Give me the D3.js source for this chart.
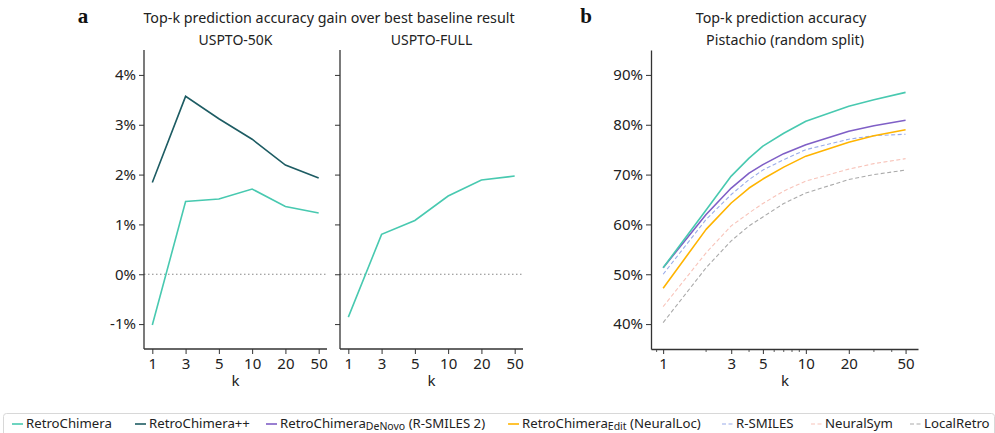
<!DOCTYPE html>
<html>
<head>
<meta charset="utf-8">
<script src="https://cdn.jsdelivr.net/npm/d3@7"></script>
<style>
  body { margin: 0; background: #fff; }
  svg { display: block; font-family: "Noto Sans", "Open Sans", sans-serif; }
</style>
</head>
<body>
<svg width="995" height="433"></svg>
<script>
// panel a: gain over best baseline (%)
const kLabels = ['1', '3', '5', '10', '20', '50'];
const gain50kChimera = [-1.02, 1.46, 1.51, 1.71, 1.36, 1.23];
const gain50kChimeraPP = [1.84, 3.57, 3.12, 2.71, 2.19, 1.93];
const gainFullChimera = [-0.86, 0.80, 1.08, 1.57, 1.89, 1.97];
const gainTicks = [-1, 0, 1, 2, 3, 4];

// panel b: top-k accuracy on Pistachio (%)
const kValues = [1, 2, 3, 4, 5, 7, 10, 20, 30, 50];
const accChimera = [51.3, 62.9, 69.7, 73.3, 75.7, 78.3, 80.7, 83.7, 85.0, 86.5];
const accDeNovo = [51.3, 62.0, 67.3, 70.3, 72.0, 74.2, 76.0, 78.7, 79.8, 80.9];
const accEdit = [47.2, 59.0, 64.3, 67.3, 69.1, 71.5, 73.7, 76.5, 77.8, 79.0];
const accRSmiles = [50.0, 61.0, 66.0, 69.0, 70.9, 73.0, 75.0, 77.1, 77.8, 78.1];
const accNeuralSym = [43.5, 54.3, 59.7, 62.3, 64.2, 66.7, 68.7, 71.1, 72.2, 73.2];
const accLocalRetro = [40.3, 51.3, 56.7, 59.7, 61.5, 64.2, 66.3, 69.0, 70.0, 70.9];
const accTicks = [40, 50, 60, 70, 80, 90];
const kTickValues = [1, 3, 5, 10, 20, 50];
const kMinorTicks = [0.9, 2, 4, 6, 7, 8, 9, 30, 40];

const colors = {
  chimera: '#48c9b0',
  chimeraPP: '#1d5c63',
  deNovo: '#7f5fc6',
  edit: '#ffb400',
  rsmiles: '#9aacea',
  neuralsym: '#f8c4ba',
  localretro: '#aaaaaa',
};

const svg = d3.select('svg');
const axisColor = '#333';
const yTop = 50, yBottom = 349;

function styleAxis(g) {
  g.select('.domain').attr('stroke', axisColor).attr('stroke-width', 1.3);
  g.selectAll('.tick line').attr('stroke', axisColor).attr('stroke-width', 1);
  g.selectAll('.tick text').attr('fill', '#222').style('font-size', '15px')
    .style('font-family', '"Noto Sans", sans-serif');
}

// ---- panel a ----
const yGain = d3.scaleLinear().domain([-1.5, 4.5]).range([yBottom, yTop]);

function gainPanel(x0, x1, title, series, showLabels) {
  const x = d3.scalePoint().domain(kLabels).range([x0, x1]).padding(0.25);
  const g = svg.append('g');

  // zero reference
  g.append('line')
    .attr('x1', x0).attr('x2', x1)
    .attr('y1', yGain(0)).attr('y2', yGain(0))
    .attr('stroke', '#888').attr('stroke-width', 1.2)
    .attr('stroke-dasharray', '1.5,2.5');

  series.forEach((s) => {
    const line = d3.line().x((d, i) => x(kLabels[i])).y(d => yGain(d));
    g.append('path').datum(s.values)
      .attr('d', line).attr('fill', 'none')
      .attr('stroke', s.color).attr('stroke-width', 1.6);
  });

  const ax = g.append('g').attr('transform', `translate(0,${yBottom})`)
    .call(d3.axisBottom(x).tickSize(5).tickPadding(4).tickSizeOuter(0));
  ax.select('.domain').attr('d', `M${x0},0H${x1}`);
  styleAxis(ax);

  const ay = g.append('g').attr('transform', `translate(${x0},0)`)
    .call(d3.axisLeft(yGain).tickValues(gainTicks).tickSize(5).tickPadding(3).tickSizeOuter(0)
      .tickFormat(d => showLabels ? `${d}%` : ''));
  ay.select('.domain').attr('d', `M0,${yTop}V${yBottom}`);
  styleAxis(ay);

  g.append('text').attr('x', (x0 + x1) / 2).attr('y', 386)
    .attr('text-anchor', 'middle').style('font-size', '15px').attr('fill', '#222').text('k');
  g.append('text').attr('x', (x0 + x1) / 2).attr('y', 45)
    .attr('text-anchor', 'middle').style('font-size', '14px').attr('fill', '#222').text(title);
}

gainPanel(144, 327, 'USPTO-50K', [
  { values: gain50kChimeraPP, color: colors.chimeraPP },
  { values: gain50kChimera, color: colors.chimera },
], true);
gainPanel(340, 523, 'USPTO-FULL', [
  { values: gainFullChimera, color: colors.chimera },
], false);

svg.append('text').attr('x', 329).attr('y', 23).attr('text-anchor', 'middle')
  .style('font-size', '14.3px').attr('fill', '#222')
  .text('Top-k prediction accuracy gain over best baseline result');

// ---- panel b ----
const bx0 = 651, bx1 = 918;
const xK = d3.scaleLog().domain([0.822, 61.1]).range([bx0, bx1]);
const yAcc = d3.scaleLinear().domain([35, 95]).range([yBottom, yTop]);
const gb = svg.append('g');

const accSeries = [
  { values: accLocalRetro, color: colors.localretro, dash: '4,2.5', w: 1.1 },
  { values: accNeuralSym, color: colors.neuralsym, dash: '4,2.5', w: 1.1 },
  { values: accRSmiles, color: colors.rsmiles, dash: '4,2.5', w: 1.1 },
  { values: accEdit, color: colors.edit, dash: null, w: 1.6 },
  { values: accDeNovo, color: colors.deNovo, dash: null, w: 1.6 },
  { values: accChimera, color: colors.chimera, dash: null, w: 1.6 },
];
accSeries.forEach((s) => {
  const line = d3.line().x((d, i) => xK(kValues[i])).y(d => yAcc(d));
  gb.append('path').datum(s.values)
    .attr('d', line).attr('fill', 'none')
    .attr('stroke', s.color).attr('stroke-width', s.w)
    .attr('stroke-linejoin', 'round')
    .attr('stroke-dasharray', s.dash);
});

const bax = gb.append('g').attr('transform', `translate(0,${yBottom})`)
  .call(d3.axisBottom(xK).tickValues(kTickValues).tickFormat(d3.format('d'))
    .tickSize(5).tickPadding(4).tickSizeOuter(0));
styleAxis(bax);
gb.append('g').attr('transform', `translate(0,${yBottom})`)
  .selectAll('line').data(kMinorTicks).join('line')
  .attr('x1', d => xK(d)).attr('x2', d => xK(d))
  .attr('y1', 0).attr('y2', 3)
  .attr('stroke', axisColor).attr('stroke-width', 0.8);

const bay = gb.append('g').attr('transform', `translate(${bx0},0)`)
  .call(d3.axisLeft(yAcc).tickValues(accTicks).tickFormat(d => `${d}%`)
    .tickSize(5).tickPadding(3).tickSizeOuter(0));
styleAxis(bay);

gb.append('text').attr('x', 785).attr('y', 386)
  .attr('text-anchor', 'middle').style('font-size', '15px').attr('fill', '#222').text('k');
gb.append('text').attr('x', 781).attr('y', 23)
  .attr('text-anchor', 'middle').style('font-size', '14.3px').attr('fill', '#222')
  .text('Top-k prediction accuracy');
gb.append('text').attr('x', 785).attr('y', 45)
  .attr('text-anchor', 'middle').style('font-size', '14.3px').attr('fill', '#222')
  .text('Pistachio (random split)');

// panel letters
[['a', 83], ['b', 586]].forEach(([t, x]) => {
  svg.append('text').attr('x', x).attr('y', 23).attr('text-anchor', 'middle')
    .style('font-family', '"Liberation Serif", "DejaVu Serif", serif')
    .style('font-size', '21px').style('font-weight', 'bold').attr('fill', '#111').text(t);
});

// ---- legend ----
const legendItems = [
  { name: 'RetroChimera', sub: null, rest: '', color: colors.chimera, dash: null, x: 12 },
  { name: 'RetroChimera++', sub: null, rest: '', color: colors.chimeraPP, dash: null, x: 135 },
  { name: 'RetroChimera', sub: 'DeNovo', rest: ' (R-SMILES 2)', color: colors.deNovo, dash: null, x: 266 },
  { name: 'RetroChimera', sub: 'Edit', rest: ' (NeuralLoc)', color: colors.edit, dash: null, x: 508 },
  { name: 'R-SMILES', sub: null, rest: '', color: colors.rsmiles, dash: '4,2.5', x: 722 },
  { name: 'NeuralSym', sub: null, rest: '', color: colors.neuralsym, dash: '4,2.5', x: 811 },
  { name: 'LocalRetro', sub: null, rest: '', color: colors.localretro, dash: '4,2.5', x: 910 },
];

svg.append('rect').attr('x', 3.5).attr('y', 413.5).attr('width', 991).attr('height', 30)
  .attr('rx', 3).attr('fill', '#fff').attr('stroke', '#d8d8d8');

const lg = svg.append('g');
const ly = 424;
legendItems.forEach((d) => {
  lg.append('line').attr('x1', d.x).attr('x2', d.x + 11).attr('y1', ly).attr('y2', ly)
    .attr('stroke', d.color).attr('stroke-width', d.dash ? 1.1 : 1.6)
    .attr('stroke-dasharray', d.dash);
  const t = lg.append('text').attr('x', d.x + 14).attr('y', ly + 4)
    .style('font-size', '13.2px').attr('fill', '#222');
  t.append('tspan').text(d.name);
  if (d.sub) {
    t.append('tspan').attr('dy', 2).style('font-size', '10.5px').text(d.sub);
    t.append('tspan').attr('dy', -2).text(d.rest);
  }
});
</script>
</body>
</html>
